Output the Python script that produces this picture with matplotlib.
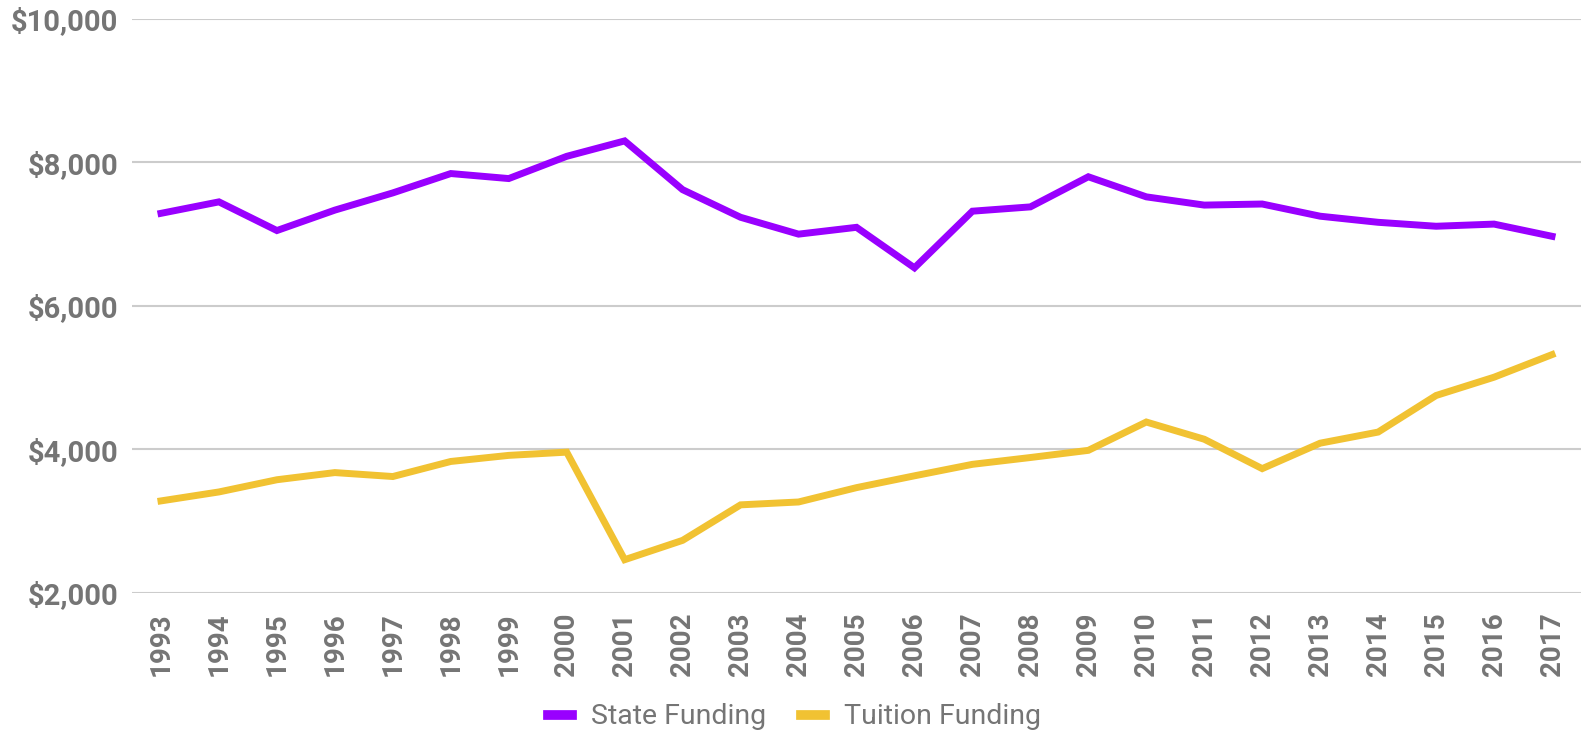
import matplotlib
matplotlib.use("Agg")
import matplotlib.pyplot as plt
from matplotlib.ticker import FuncFormatter

years = [str(y) for y in range(1993, 2018)]
state_funding = [7290, 7450, 7050, 7335, 7575, 7845, 7775, 8085, 8300, 7620,
                 7235, 7000, 7095, 6530, 7320, 7380, 7800, 7520, 7405, 7420,
                 7250, 7165, 7110, 7140, 6970]
tuition_funding = [3280, 3405, 3575, 3675, 3620, 3830, 3915, 3960, 2460, 2730,
                   3225, 3265, 3465, 3630, 3790, 3885, 3985, 4380, 4140, 3730,
                   4085, 4240, 4750, 5005, 5320]
y_ticks = [2000, 4000, 6000, 8000, 10000]

plt.rcParams['font.family'] = ['Roboto', 'DejaVu Sans']

fig = plt.figure(figsize=(15.89, 7.35), dpi=100)
ax = fig.add_axes([132/1589, 1-592.7/735, (1581-132)/1589, (592.7-19)/735])

x = list(range(len(years)))
ax.plot(x, state_funding, color='#9900ff', lw=5, solid_joinstyle='miter', label='State Funding')
ax.plot(x, tuition_funding, color='#f1c232', lw=5, solid_joinstyle='miter', label='Tuition Funding')

ax.set_xlim(-0.5, len(years) - 0.5)
ax.set_ylim(2000, 10000)
ax.set_yticks(y_ticks)
ax.yaxis.set_major_formatter(FuncFormatter(lambda v, p: f"${v:,.0f}"))
ax.set_xticks(x)
ax.set_xticklabels(years, rotation=90)

for s in ax.spines.values():
    s.set_visible(False)
ax.grid(axis='y', color='#cccccc', lw=1.5)
ax.set_axisbelow(True)
ax.tick_params(axis='both', length=0, colors='#757575')
ax.tick_params(axis='y', pad=10, labelsize=21)
ax.tick_params(axis='x', pad=14, labelsize=20)
for lbl in ax.get_xticklabels() + ax.get_yticklabels():
    lbl.set_fontweight('bold')
    lbl.set_color('#757575')

leg = fig.legend(loc='center', bbox_to_anchor=(0.5, 1-717/735), ncol=2, frameon=False,
                 fontsize=20.5, handlelength=0.84, handletextpad=0.67, columnspacing=1.2)
for t in leg.get_texts():
    t.set_color('#757575')
for h in leg.get_lines():
    h.set_linewidth(7)

fig.savefig('out.png', dpi=100)
